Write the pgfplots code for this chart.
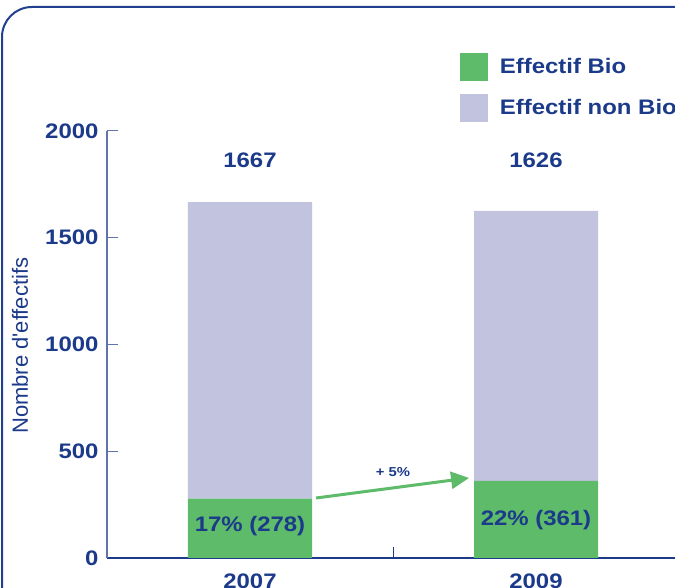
\documentclass[border=0pt]{standalone}
\usepackage{fontspec}
\setmainfont{Liberation Sans}[FakeStretch=1.14]
\newfontfamily\labelfont{Liberation Sans}[Ligatures=TeXOff]
\usepackage{pgfplots}
\pgfplotsset{compat=1.18}
\usetikzlibrary{arrows.meta}

\definecolor{navy}{HTML}{1C3A8A}
\definecolor{framec}{HTML}{21408F}
\definecolor{steel}{HTML}{5F73AC}
\definecolor{bio}{HTML}{5DBB6A}
\definecolor{nonbio}{HTML}{C2C3DF}

\newcommand{\bigbf}{\bfseries\fontsize{21}{21}\selectfont}

\begin{document}
\begin{tikzpicture}[x=1pt,y=1pt]
\path[use as bounding box] (0,0) rectangle (675,588);
\clip (0,0) rectangle (675,588);
% cadre arrondi
\draw[framec, line width=2pt, rounded corners=30pt] (2,-40) -- (2,581) -- (730,581);
\begin{axis}[
    at={(107pt,30pt)}, anchor=south west,
    scale only axis, width=572pt, height=427pt,
    ybar stacked, bar width=124pt,
    xmin=-0.5, xmax=1.5, ymin=0, ymax=2000,
    clip=false,
    axis x line=bottom, axis y line=left,
    x axis line style={navy, line width=2pt, -},
    y axis line style={steel, line width=1.5pt, -},
    xtick={0,1}, xticklabels={2007,2009},
    x tick style={draw=none},
    extra x ticks={0.5}, extra x tick labels={},
    extra x tick style={x tick style={draw=navy, line width=1pt}},
    ytick={0,500,1000,1500,2000},
    y tick style={steel, line width=1pt},
    tick align=inside, major tick length=11pt,
    /pgf/number format/1000 sep={},
    /pgf/number format/assume math mode=true,
    tick label style={font=\bigbf, text=navy},
    yticklabel style={xshift=-5pt},
    xticklabel style={yshift=-12pt},
    ylabel={Nombre d'effectifs},
    ylabel style={at={(rel axis cs:-0.152,0.497)}, anchor=center,
        font=\labelfont\fontsize{22}{22}\selectfont, text=navy},
    legend cell align=left,
    legend image code/.code={\fill[#1] (0pt,-14pt) rectangle (28pt,14pt);},
    legend style={at={(0.617,1.1827)}, anchor=north west,
        draw=none, fill=none, inner sep=0pt, outer sep=0pt, row sep=13pt,
        nodes={inner sep=0pt, text=navy, font=\bigbf},
        /tikz/every odd column/.append style={column sep=12pt}},
    % etiquettes et fleche par-dessus les barres
    after end axis/.code={
        \node[text=navy, font=\bigbf] at (axis cs:0,1865) {1667};
        \node[text=navy, font=\bigbf] at (axis cs:1,1865) {1626};
        \node[text=navy, font=\bigbf] at (axis cs:0,150) {17\% (278)};
        \node[text=navy, font=\bigbf] at (axis cs:1,178) {22\% (361)};
        \node[text=navy, font=\bfseries\fontsize{13}{13}\selectfont] at (axis cs:0.5,403) {+ 5\%};
        \draw[bio, line width=3pt, -{Triangle[length=18pt,width=17pt]}]
            (axis cs:0.231,281) -- (axis cs:0.766,375);
    },
]
\addplot[fill=bio, draw=none] coordinates {(0,278) (1,361)};
\addplot[fill=nonbio, draw=none] coordinates {(0,1389) (1,1265)};
\legend{Effectif Bio, Effectif non Bio}
\end{axis}
\end{tikzpicture}
\end{document}
